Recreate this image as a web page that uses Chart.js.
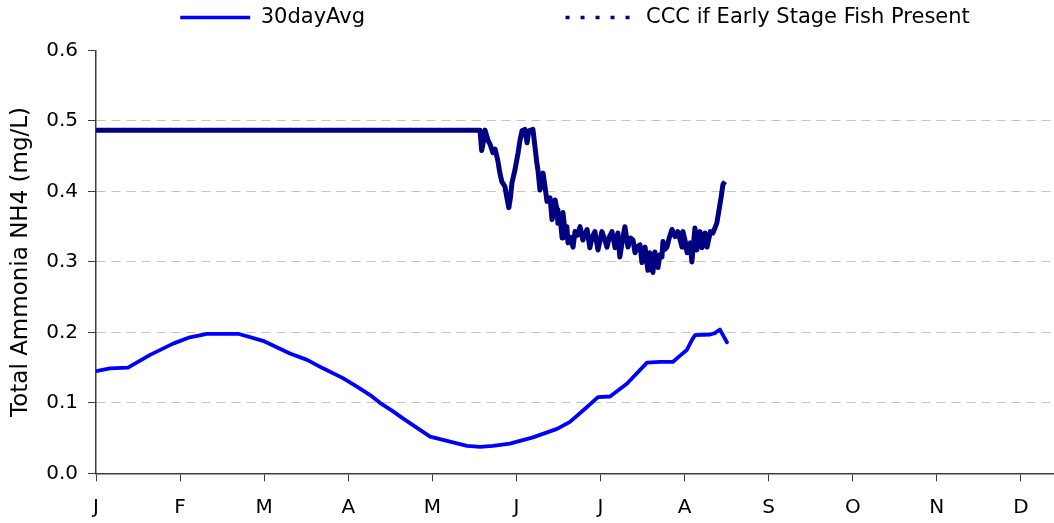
<!DOCTYPE html>
<html>
<head>
<meta charset="utf-8">
<title>Total Ammonia NH4</title>
<script src="https://cdn.jsdelivr.net/npm/chart.js@4/dist/chart.umd.min.js"></script>
<style>
  html, body { margin: 0; padding: 0; background: #ffffff; }
  #chart { display: block; }
</style>
</head>
<body>
<canvas id="chart" width="1054" height="523"></canvas>
<script>
// Month tick labels, one every 30 days on the x axis
const monthLabels = ['J', 'F', 'M', 'A', 'M', 'J', 'J', 'A', 'S', 'O', 'N', 'D'];
const yTicks = [0, 0.1, 0.2, 0.3, 0.4, 0.5, 0.6];

// 30-day average (day of year, mg/L)
const avgDays = [0, 5, 11.4, 19.3, 27.5, 33.5, 39.6, 50.7, 59.6, 69.2, 75.3, 81, 88.1, 93.1, 97.8,
  101.3, 105.6, 109.5, 119.2, 126.3, 132.4, 137, 141.6, 147.7, 155.9, 164.5, 169.1, 175.2, 179.1,
  183.4, 189.4, 196.6, 201.2, 205.8, 208.4, 210.8, 212.6, 213.7, 219.1, 220.8, 222.6, 223.7, 225.1];
const avgValues = [0.145, 0.149, 0.150, 0.168, 0.184, 0.193, 0.198, 0.198, 0.188, 0.170, 0.161, 0.149, 0.135, 0.123, 0.111,
  0.100, 0.089, 0.078, 0.052, 0.045, 0.039, 0.0375, 0.039, 0.042, 0.051, 0.063, 0.073, 0.094, 0.108,
  0.109, 0.127, 0.157, 0.158, 0.158, 0.167, 0.175, 0.189, 0.196, 0.197, 0.199, 0.204, 0.196, 0.186];

// Chronic criterion with early life stages present (day of year, mg/L)
const cccDays = [0, 135.2, 137.0, 137.6, 138.3, 138.8, 139.8, 140.7, 141.6, 142.4, 143.4, 144.1, 144.8,
  145.9, 146.6, 147.3, 147.9, 148.4, 149.5, 150.6, 151.3, 152.0, 153.0, 153.5, 153.8, 154.4, 155.9,
  156.6, 157.3, 157.7, 158.4, 159.5, 160.2, 160.9, 162.0, 162.7, 163.4, 163.8, 164.5, 164.8, 165.6,
  166.3, 166.6, 167.3, 168.0, 168.4, 169.3, 170.2, 170.9, 171.8, 172.7, 173.7, 174.5, 175.2, 176.2,
  177.1, 178.0, 179.1, 179.8, 180.5, 181.4, 182.3, 183.2, 184.1, 185.2, 186.2, 186.9, 187.8, 188.7,
  189.8, 190.7, 191.6, 192.3, 193.2, 194.1, 194.8, 195.9, 196.9, 197.6, 198.7, 199.4, 200.5, 201.2,
  201.9, 202.3, 203.0, 203.7, 204.6, 205.5, 206.6, 207.6, 209.1, 209.4, 210.2, 210.9, 212.0, 212.6,
  213.7, 214.4, 215.5, 216.2, 217.3, 218.0, 219.2, 220.1, 221.5, 222.3, 223.0, 223.7, 224.4];
const cccValues = [0.487, 0.487, 0.487, 0.458, 0.472, 0.487, 0.473, 0.466, 0.455, 0.460, 0.443, 0.426, 0.414,
  0.407, 0.391, 0.377, 0.392, 0.412, 0.431, 0.455, 0.473, 0.486, 0.488, 0.476, 0.469, 0.486, 0.488,
  0.464, 0.440, 0.430, 0.402, 0.426, 0.407, 0.386, 0.391, 0.360, 0.372, 0.388, 0.374, 0.355, 0.364,
  0.334, 0.370, 0.345, 0.350, 0.327, 0.335, 0.321, 0.343, 0.338, 0.350, 0.331, 0.340, 0.346, 0.320,
  0.336, 0.343, 0.317, 0.330, 0.343, 0.333, 0.321, 0.336, 0.343, 0.320, 0.341, 0.307, 0.330, 0.350,
  0.321, 0.334, 0.331, 0.313, 0.322, 0.324, 0.299, 0.321, 0.288, 0.313, 0.285, 0.314, 0.292, 0.310,
  0.307, 0.329, 0.318, 0.321, 0.335, 0.346, 0.336, 0.343, 0.321, 0.343, 0.330, 0.313, 0.327, 0.300,
  0.348, 0.317, 0.343, 0.320, 0.341, 0.321, 0.343, 0.341, 0.355, 0.374, 0.391, 0.410, 0.414];

const toPoints = (xs, ys) => xs.map((x, i) => ({ x: x, y: ys[i] }));

const FONT = 'DejaVu Sans';
const AXIS_DARK = '#3c3c3c';
const GRID_GREY = '#c4c4c4';

Chart.defaults.color = '#000000';
Chart.defaults.font.family = FONT;

new Chart(document.getElementById('chart'), {
  type: 'line',
  data: {
    datasets: [
      {
        label: '30dayAvg',
        data: toPoints(avgDays, avgValues),
        borderColor: '#0000ff',
        backgroundColor: '#0000ff',
        borderWidth: 3.8,
        borderJoinStyle: 'round',
        borderCapStyle: 'round',
        pointRadius: 0,
        tension: 0,
        fill: false
      },
      {
        label: 'CCC if Early Stage Fish Present',
        data: toPoints(cccDays, cccValues),
        borderColor: '#000080',
        backgroundColor: '#000080',
        borderWidth: 5,
        borderJoinStyle: 'round',
        borderCapStyle: 'butt',
        pointRadius: 0,
        tension: 0,
        fill: false
      }
    ]
  },
  options: {
    responsive: false,
    animation: false,
    devicePixelRatio: 1,
    layout: { padding: 0 },
    plugins: {
      tooltip: { enabled: false },
      legend: {
        position: 'top',
        fullSize: false,
        weight: 3000,
        labels: {
          font: { family: FONT, size: 21 },
          color: '#000000',
          usePointStyle: true,
          pointStyleWidth: 70,
          padding: 7,
          generateLabels: (chart) => chart.data.datasets.map((ds, i) => ({
            // trailing spaces open the gap before the second entry
            text: i === 0 ? ds.label + ' '.repeat(29) : ds.label,
            strokeStyle: ds.borderColor,
            fillStyle: ds.borderColor,
            lineWidth: 3.5,
            lineDash: i === 1 ? [4, 11] : [],
            lineCap: 'butt',
            pointStyle: 'line',
            hidden: false,
            datasetIndex: i
          }))
        }
      },
      // empty title used as spacing between the legend and the plot
      title: {
        display: true,
        text: '',
        padding: 0,
        fullSize: false,
        font: { size: 10, lineHeight: 1.25 }
      }
    },
    scales: {
      x: {
        type: 'linear',
        min: 0,
        max: 341.8,
        afterBuildTicks: (scale) => {
          scale.ticks = monthLabels.map((_, i) => ({ value: i * 30 }));
        },
        afterFit: (scale) => { scale.height = 49.7; },
        ticks: {
          autoSkip: false,
          maxRotation: 0,
          padding: 14,
          font: { family: FONT, size: 20 },
          color: '#000000',
          callback: (value, index) => monthLabels[index]
        },
        grid: {
          drawOnChartArea: false,
          drawTicks: true,
          tickLength: 8,
          tickColor: AXIS_DARK,
          tickWidth: 1,
          tickBorderDash: []
        },
        border: { color: AXIS_DARK, width: 1.5 }
      },
      y: {
        min: 0,
        max: 0.6,
        afterBuildTicks: (scale) => {
          scale.ticks = yTicks.map((v) => ({ value: v }));
        },
        afterFit: (scale) => { scale.width = 96; },
        ticks: {
          padding: 10,
          font: { family: FONT, size: 20 },
          color: '#000000',
          callback: (value) => Number(value).toFixed(1)
        },
        grid: {
          color: (ctx) => {
            const v = ctx.tick ? ctx.tick.value : null;
            if (v === null || Math.abs(v) < 1e-9 || Math.abs(v - 0.6) < 1e-9) return 'rgba(0,0,0,0)';
            return GRID_GREY;
          },
          lineWidth: 1,
          drawTicks: true,
          tickLength: 8,
          tickColor: AXIS_DARK,
          tickWidth: 1,
          tickBorderDash: []
        },
        border: { color: AXIS_DARK, width: 1.5, dash: [9, 6] },
        title: {
          display: true,
          text: 'Total Ammonia NH4 (mg/L)',
          font: { family: FONT, size: 23 },
          color: '#000000',
          padding: { top: 7, bottom: 0 }
        }
      }
    }
  }
});
</script>
</body>
</html>
